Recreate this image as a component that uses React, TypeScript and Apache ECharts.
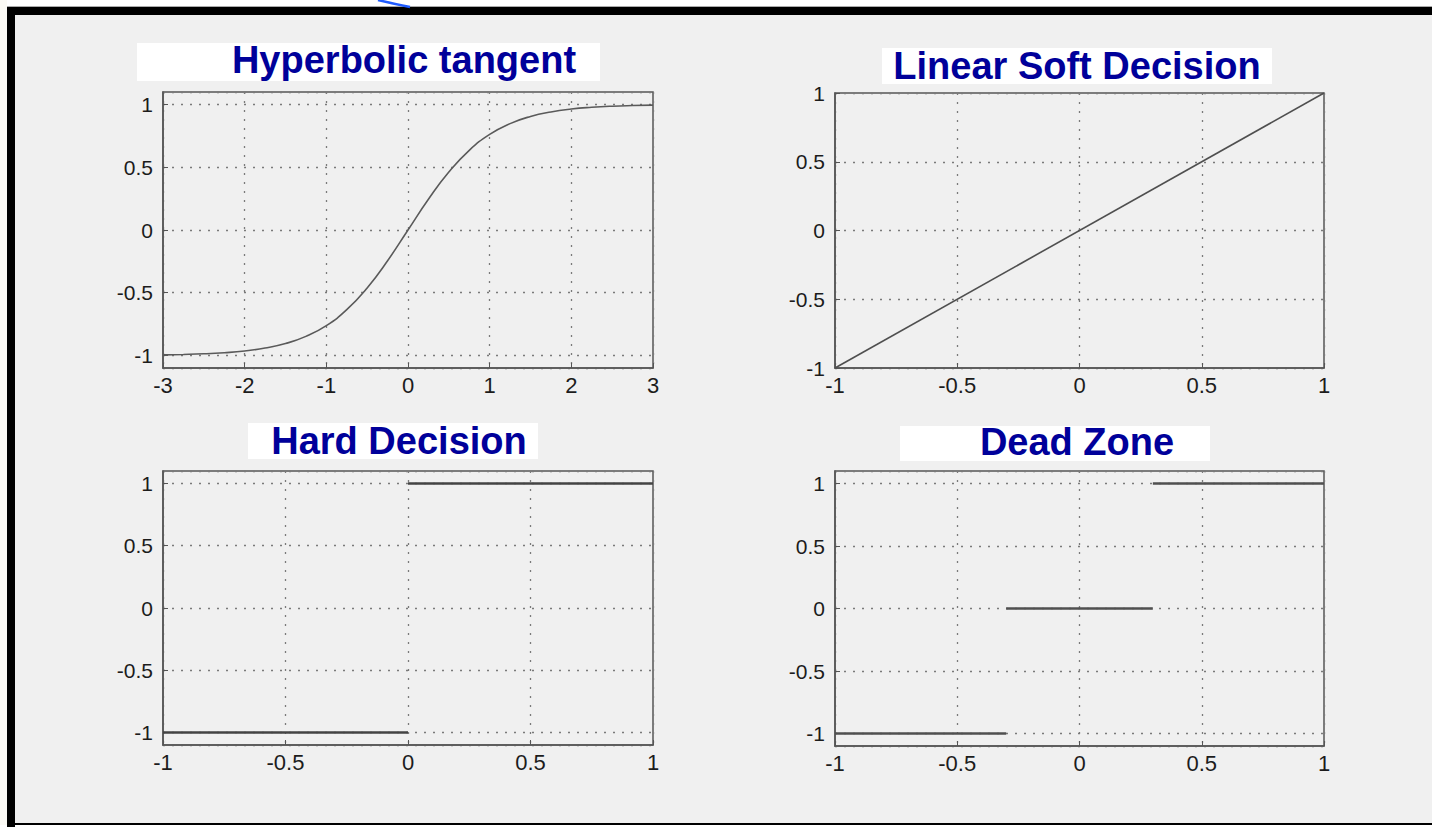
import React, { useEffect, useRef } from "react";
import * as echarts from "echarts";

// ---- data ----
const titles = ["Hyperbolic tangent", "Linear Soft Decision", "Hard Decision", "Dead Zone"];

const tanhX = [-3, -2.75, -2.5, -2.25, -2, -1.75, -1.5, -1.25, -1, -0.75, -0.5, -0.25, 0, 0.25, 0.5, 0.75, 1, 1.25, 1.5, 1.75, 2, 2.25, 2.5, 2.75, 3];
const tanhY = [-0.995, -0.992, -0.987, -0.978, -0.964, -0.941, -0.905, -0.848, -0.762, -0.635, -0.462, -0.245, 0, 0.245, 0.462, 0.635, 0.762, 0.848, 0.905, 0.941, 0.964, 0.978, 0.987, 0.992, 0.995];

const linearX = [-1, 1];
const linearY = [-1, 1];

const hardLowX = [-1, 0];
const hardLowY = [-1, -1];
const hardHighX = [0, 1];
const hardHighY = [1, 1];

const deadLowX = [-1, -0.3];
const deadLowY = [-1, -1];
const deadMidX = [-0.3, 0.3];
const deadMidY = [0, 0];
const deadHighX = [0.3, 1];
const deadHighY = [1, 1];

const tanhRangeX = [-3, 3];
const unitRangeX = [-1, 1];
const paddedRangeY = [-1.1, 1.1];
const unitRangeY = [-1, 1];

const pairs = (xs: number[], ys: number[]) => xs.map((x, i) => [x, ys[i]]);

const FONT = "'Liberation Sans', Arial, Helvetica, sans-serif";
const GRID_COLOR = "#7a7a7a";
const AXIS_COLOR = "#555555";
const LABEL_COLOR = "#1c1c1c";

function xAxisFor(gridIndex: number, range: number[], interval: number) {
  return {
    type: "value",
    gridIndex,
    min: range[0],
    max: range[1],
    interval,
    axisLine: { show: true, onZero: false, lineStyle: { color: AXIS_COLOR, width: 1.5 } },
    axisTick: { show: true, inside: true, length: 5, lineStyle: { color: AXIS_COLOR } },
    axisLabel: { color: LABEL_COLOR, fontSize: 22, fontFamily: FONT, margin: 6 },
    splitLine: { show: true, lineStyle: { color: GRID_COLOR, width: 1.3, type: [2, 7] } },
  };
}

function yAxisFor(gridIndex: number, range: number[], padded: boolean) {
  const base: any = {
    type: "value",
    gridIndex,
    min: range[0],
    max: range[1],
    axisLine: { show: true, onZero: false, lineStyle: { color: AXIS_COLOR, width: 1.5 } },
    axisTick: { show: true, inside: true, length: 5, lineStyle: { color: AXIS_COLOR } },
    axisLabel: {
      color: LABEL_COLOR,
      fontSize: 21,
      fontFamily: FONT,
      margin: 10,
      showMinLabel: !padded,
      showMaxLabel: !padded,
    },
    splitLine: { show: true, lineStyle: { color: GRID_COLOR, width: 1.3, type: [2, 7] } },
  };
  if (padded) base.splitNumber = 5;
  else base.interval = 0.5;
  return base;
}

function lineSeries(gridIndex: number, data: number[][], width: number, color: string, smooth = false) {
  return {
    type: "line",
    xAxisIndex: gridIndex,
    yAxisIndex: gridIndex,
    data,
    smooth,
    showSymbol: false,
    symbol: "none",
    lineStyle: { color, width },
    z: 3,
  };
}

const titleBoxes = [
  { cx: 404, cy: 60, box: [137, 43, 463, 38] },
  { cx: 1077, cy: 66, box: [882, 48, 390, 36] },
  { cx: 399, cy: 441, box: [248, 423, 290, 36] },
  { cx: 1077, cy: 442, box: [900, 426, 310, 35] },
];

export default function App() {
  const ref = useRef<HTMLDivElement>(null);
  useEffect(() => {
    if (!ref.current) return;
    const chart = echarts.init(ref.current, undefined, { renderer: "svg" });

    const grids = [
      { left: 163, top: 92, width: 490, height: 276 },
      { left: 835, top: 93, width: 489, height: 275 },
      { left: 163, top: 471, width: 490, height: 274 },
      { left: 835, top: 471, width: 489, height: 275 },
    ].map((g) => ({ ...g, show: true, borderColor: AXIS_COLOR, borderWidth: 1.5, backgroundColor: "transparent" }));

    const graphic: any[] = [
      // white outer margins
      { type: "rect", shape: { x: 0, y: 0, width: 1432, height: 7 }, style: { fill: "#ffffff" }, silent: true },
      { type: "rect", shape: { x: 0, y: 0, width: 7, height: 827 }, style: { fill: "#fbfaf5" }, silent: true },
      { type: "rect", shape: { x: 0, y: 825, width: 1432, height: 2 }, style: { fill: "#ffffff" }, silent: true },
      { type: "line", shape: { x1: 7, y1: 6.5, x2: 1432, y2: 6.5 }, style: { stroke: "#aaaaaa", lineWidth: 1 }, silent: true },
      // black frame
      { type: "rect", shape: { x: 7, y: 7, width: 1425, height: 8 }, style: { fill: "#000000" }, silent: true },
      { type: "rect", shape: { x: 7, y: 7, width: 8, height: 820 }, style: { fill: "#000000" }, silent: true },
      { type: "rect", shape: { x: 7, y: 823, width: 1425, height: 2 }, style: { fill: "#000000" }, silent: true },
      // blue arrow fragment at top
      {
        type: "bezierCurve",
        shape: { x1: 378, y1: 0, x2: 410, y2: 7, cpx1: 390, cpy1: 3, cpx2: 400, cpy2: 5 },
        style: { stroke: "#1f5bff", lineWidth: 2.5, fill: null },
        silent: true,
      },
    ];

    titles.forEach((t, i) => {
      const tb = titleBoxes[i];
      graphic.push({
        type: "rect",
        shape: { x: tb.box[0], y: tb.box[1], width: tb.box[2], height: tb.box[3] },
        style: { fill: "#ffffff" },
        silent: true,
      });
      graphic.push({
        type: "text",
        x: tb.cx,
        y: tb.cy,
        style: {
          text: t,
          fill: "#00009a",
          font: `bold 38px ${FONT}`,
          align: "center",
          verticalAlign: "middle",
        },
        silent: true,
      });
    });

    chart.setOption({
      animation: false,
      backgroundColor: "#f0f0f0",
      grid: grids,
      xAxis: [
        xAxisFor(0, tanhRangeX, 1),
        xAxisFor(1, unitRangeX, 0.5),
        xAxisFor(2, unitRangeX, 0.5),
        xAxisFor(3, unitRangeX, 0.5),
      ],
      yAxis: [
        yAxisFor(0, paddedRangeY, true),
        yAxisFor(1, unitRangeY, false),
        yAxisFor(2, paddedRangeY, true),
        yAxisFor(3, paddedRangeY, true),
      ],
      series: [
        lineSeries(0, pairs(tanhX, tanhY), 1.6, "#5a5a5a", true),
        lineSeries(1, pairs(linearX, linearY), 1.6, "#4f4f4f"),
        lineSeries(2, pairs(hardLowX, hardLowY), 2.5, "#444444"),
        lineSeries(2, pairs(hardHighX, hardHighY), 2.5, "#444444"),
        lineSeries(3, pairs(deadLowX, deadLowY), 2.5, "#505050"),
        lineSeries(3, pairs(deadMidX, deadMidY), 2.5, "#505050"),
        lineSeries(3, pairs(deadHighX, deadHighY), 2.5, "#505050"),
      ],
      graphic,
    });

    return () => chart.dispose();
  }, []);

  return (
    <div
      ref={ref}
      style={{ position: "fixed", left: 0, top: 0, width: 1432, height: 827 }}
    />
  );
}
